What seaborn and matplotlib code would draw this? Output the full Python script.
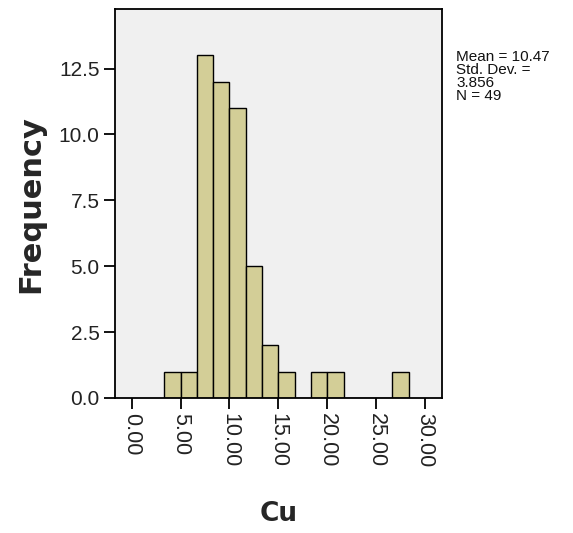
import matplotlib
matplotlib.use("Agg")
import matplotlib.pyplot as plt
import seaborn as sns
import numpy as np

# Cu concentration histogram (SPSS-style frequency chart)
bin_edges = [10/3, 15/3, 20/3, 25/3, 30/3, 35/3, 40/3, 45/3, 50/3,
             55/3, 60/3, 65/3, 70/3, 75/3, 80/3, 85/3]
bin_counts = [1, 1, 13, 12, 11, 5, 2, 1, 0, 1, 1, 0, 0, 0, 1]
x_ticks = [0, 5, 10, 15, 20, 25, 30]
x_tick_labels = ["0.00", "5.00", "10.00", "15.00", "20.00", "25.00", "30.00"]
y_ticks = [0.0, 2.5, 5.0, 7.5, 10.0, 12.5]
y_tick_labels = ["0.0", "2.5", "5.0", "7.5", "10.0", "12.5"]
stats_lines = ["Mean = 10.47", "Std. Dev. =", "3.856", "N = 49"]

bin_centers = [(a + b) / 2 for a, b in zip(bin_edges[:-1], bin_edges[1:])]

sns.set_theme(style="white")
plt.rcParams["font.family"] = ["Liberation Sans", "DejaVu Sans"]

fig = plt.figure(figsize=(5.73, 5.33), dpi=100)
ax = fig.add_axes([0.2007, 0.2533, 0.5702, 0.7293])
ax.set_facecolor("#F0F0F0")

sns.histplot(x=bin_centers, weights=bin_counts, bins=bin_edges, ax=ax,
             color="#D3CE97", edgecolor="black", linewidth=1.0, alpha=1.0)

ax.set_xlim(-1.7, 31.7)
ax.set_ylim(0, 14.75)
ax.set_xticks(x_ticks)
ax.set_xticklabels(x_tick_labels, rotation=-90, fontsize=15.5, color="#222222")
ax.set_yticks(y_ticks)
ax.set_yticklabels(y_tick_labels, fontsize=15, color="#222222")
ax.tick_params(axis="both", direction="out", length=8, width=1.3,
               color="black", pad=3, bottom=True, left=True)

for side in ax.spines.values():
    side.set_visible(True)
    side.set_color("black")
    side.set_linewidth(1.3)

ax.set_xlabel("Cu", fontsize=19, fontweight="bold", family="DejaVu Sans",
              labelpad=24)
ax.set_ylabel("Frequency", fontsize=22, fontweight="bold",
              family="DejaVu Sans", labelpad=10)

fig.text(0.796, 0.906, "\n".join(stats_lines), fontsize=11,
         family="Liberation Sans",
         va="top", ha="left", linespacing=0.9, color="#111111")

fig.savefig("out.png", dpi=100, facecolor="white")
